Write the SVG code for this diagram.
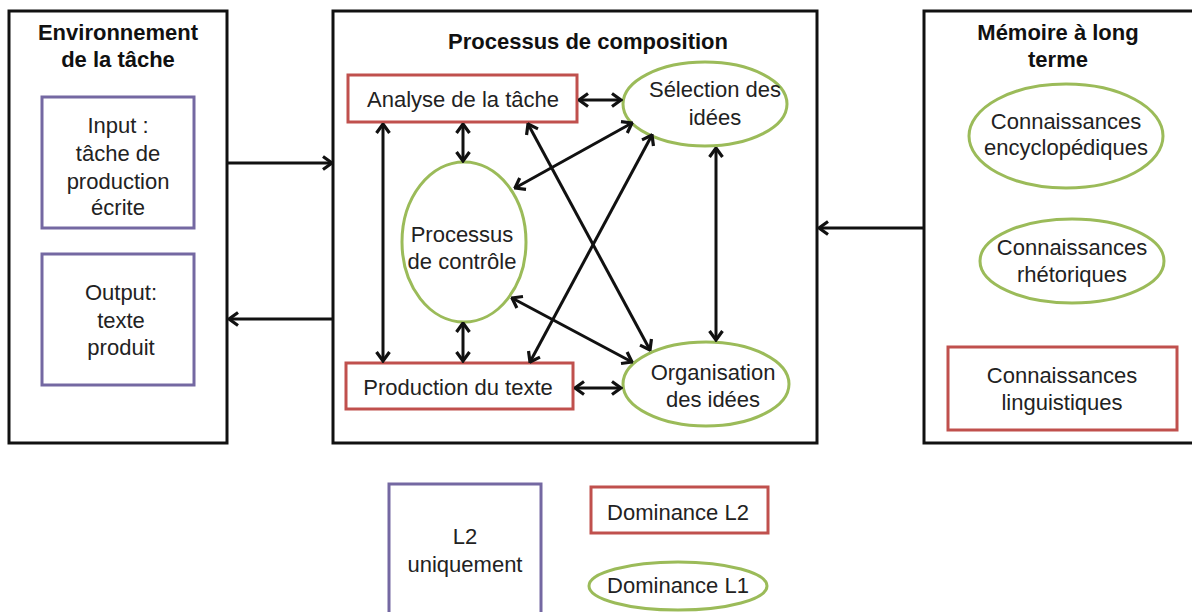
<svg xmlns="http://www.w3.org/2000/svg" width="1192" height="612" viewBox="0 0 1192 612">
<defs>
<marker id="arr" viewBox="0 0 12 16" refX="10.5" refY="8" markerWidth="12" markerHeight="16" markerUnits="userSpaceOnUse" orient="auto-start-reverse">
<path d="M1.5,1.5 L10.5,8 L1.5,14.5" fill="none" stroke="#111" stroke-width="3.2" stroke-linejoin="miter"/>
</marker>
</defs>
<style>
.frame{fill:#fff;stroke:#111;stroke-width:3}
.l2{fill:#fff;stroke:#7468A2;stroke-width:3}
.red{fill:#fff;stroke:#C0504D;stroke-width:3}
.grn{fill:#fff;stroke:#9BBB59;stroke-width:3}
text{font-family:"Liberation Sans",Arial,sans-serif;font-size:22px;fill:#222;text-anchor:middle}
.t{font-weight:bold;font-size:22px;fill:#111}
.c{fill:none;stroke:#111;stroke-width:3}
.s{marker-end:url(#arr)}
.d{marker-start:url(#arr);marker-end:url(#arr)}
</style>
<rect x="0" y="0" width="1192" height="612" fill="#fff"/>

<g id="env">
<rect class="frame" x="9" y="11" width="218" height="432"/>
<text class="t" x="118" y="40">Environnement</text>
<text class="t" x="118" y="67">de la tâche</text>
</g>
<g id="input">
<rect class="l2" x="42" y="97" width="152" height="131"/>
<text x="118" y="133">Input :</text>
<text x="118" y="161">tâche de</text>
<text x="118" y="189">production</text>
<text x="118" y="215">écrite</text>
</g>
<g id="output">
<rect class="l2" x="42" y="254" width="152" height="131"/>
<text x="121" y="300">Output:</text>
<text x="121" y="328">texte</text>
<text x="121" y="355">produit</text>
</g>

<g id="compo">
<rect class="frame" x="333" y="11" width="484" height="432"/>
<text class="t" x="588" y="49">Processus de composition</text>
</g>
<g id="analyse">
<rect class="red" x="348" y="75" width="229" height="47"/>
<text x="463" y="107">Analyse de la tâche</text>
</g>
<g id="selection">
<ellipse class="grn" cx="705" cy="104" rx="82" ry="42"/>
<text x="715" y="97">Sélection des</text>
<text x="715" y="125">idées</text>
</g>
<g id="controle">
<ellipse class="grn" cx="464" cy="242" rx="62" ry="80"/>
<text x="462" y="242">Processus</text>
<text x="462" y="269">de contrôle</text>
</g>
<g id="production">
<rect class="red" x="346" y="363" width="227" height="46"/>
<text x="458" y="395">Production du texte</text>
</g>
<g id="organisation">
<ellipse class="grn" cx="706" cy="384" rx="83" ry="42"/>
<text x="713" y="380">Organisation</text>
<text x="713" y="407">des idées</text>
</g>

<g id="memoire">
<rect class="frame" x="924" y="11" width="272" height="432"/>
<text class="t" x="1058" y="40">Mémoire à long</text>
<text class="t" x="1058" y="67">terme</text>
</g>
<g id="encyclo">
<ellipse class="grn" cx="1066" cy="136" rx="97" ry="52"/>
<text x="1066" y="129">Connaissances</text>
<text x="1066" y="155">encyclopédiques</text>
</g>
<g id="rheto">
<ellipse class="grn" cx="1072" cy="261" rx="92" ry="42"/>
<text x="1072" y="255">Connaissances</text>
<text x="1072" y="282">rhétoriques</text>
</g>
<g id="lingui">
<rect class="red" x="948" y="347" width="229" height="83"/>
<text x="1062" y="383">Connaissances</text>
<text x="1062" y="410">linguistiques</text>
</g>

<g id="legend-l2only">
<rect class="l2" x="389" y="484" width="152" height="135"/>
<text x="465" y="544">L2</text>
<text x="465" y="572">uniquement</text>
</g>
<g id="legend-domL2">
<rect class="red" x="591" y="487" width="177" height="46"/>
<text x="678" y="520">Dominance L2</text>
</g>
<g id="legend-domL1">
<ellipse class="grn" cx="678" cy="586" rx="89" ry="24"/>
<text x="678" y="593">Dominance L1</text>
</g>

<g id="connectors">
<line class="c s" x1="227" y1="163" x2="332" y2="163"/>
<line class="c s" x1="333" y1="319" x2="229" y2="319"/>
<line class="c s" x1="924" y1="228" x2="819" y2="228"/>
<line class="c d" x1="579" y1="100" x2="621" y2="100"/>
<line class="c d" x1="463" y1="124" x2="463" y2="161"/>
<line class="c d" x1="383" y1="124" x2="383" y2="361"/>
<line class="c d" x1="528" y1="124" x2="650" y2="350"/>
<line class="c d" x1="632" y1="123" x2="515" y2="188"/>
<line class="c d" x1="652" y1="135" x2="530" y2="362"/>
<line class="c d" x1="512" y1="298" x2="632" y2="362"/>
<line class="c d" x1="463" y1="323" x2="463" y2="361"/>
<line class="c d" x1="575" y1="388" x2="621" y2="388"/>
<line class="c d" x1="716" y1="148" x2="716" y2="340"/>
</g>
</svg>
